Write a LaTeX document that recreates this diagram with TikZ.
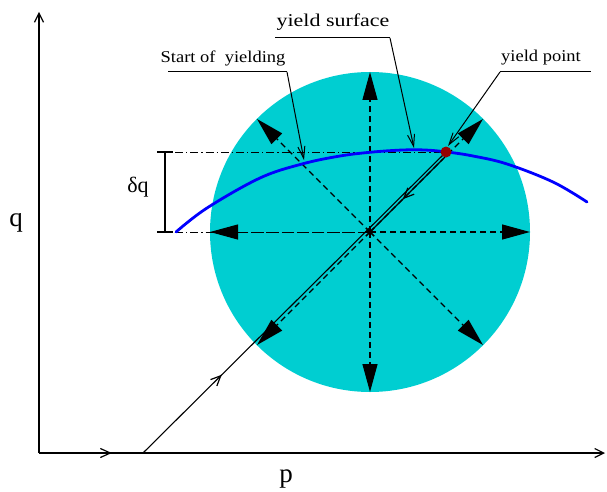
\documentclass[tikz,border=0pt]{standalone}
\usepackage{fontspec}
\setmainfont{Liberation Serif}
\usetikzlibrary{arrows.meta,decorations.markings}
\definecolor{surf}{RGB}{0,206,209}
\definecolor{ydot}{RGB}{150,0,0}
\begin{document}
\begin{tikzpicture}[x=1pt,y=-1pt,
  thinline/.style={line width=1.1pt},
  dashline/.style={line width=1.2pt,dash pattern=on 6pt off 4pt},
  dotdash/.style={line width=1pt,dash pattern=on 8pt off 3pt on 1.2pt off 3pt},
  bighead/.style={-{Triangle[length=28pt,width=15pt]}},
  barb/.style={-{Straight Barb[length=9pt,width=9pt,line width=1.2pt]}},
  leader/.style={line width=1pt,-{Straight Barb[length=12pt,width=7pt,line width=1pt]}},
  midarrow/.style={postaction={decorate},decoration={markings,
     mark=at position #1 with {\arrow{Straight Barb[length=10pt,width=9pt,line width=1.2pt]}}}},
  lbl/.style={inner sep=0pt,anchor=base}]
\useasboundingbox (0,0) rectangle (607,492);

% coordinates
\coordinate (O) at (370,232);
\coordinate (Y) at (446,152);
\coordinate (orig) at (39,453);
\coordinate (yend) at (39,12);
\coordinate (xend) at (605,453);
\coordinate (K) at (143,453);
\coordinate (U) at (443,159);
\coordinate (N) at (370,72);
\coordinate (S) at (370,392);
\coordinate (E) at (530,232);
\coordinate (W) at (210,232);
\coordinate (NE) at (483,119);
\coordinate (NW) at (257,119);
\coordinate (SE) at (483,345);
\coordinate (SW) at (257,345);
\coordinate (dimTop) at (165,152);
\coordinate (dimBot) at (165,232);
\coordinate (dlTop) at (160,152);
\coordinate (dlBot) at (160,232);

% yield surface disc
\fill[surf] (O) circle (160);

% axes
\draw[thinline,barb] (orig) -- (yend);
\draw[thinline,barb] (orig) -- (xend);
\draw[thinline,midarrow=0.7] (orig) -- (K);

% loading path
\draw[thinline,midarrow=0.26] (K) -- (Y);

% dash-dot reference lines
\draw[dotdash] (dlTop) -- (Y);
\draw[dotdash] (dlBot) -- (O);
\draw[dotdash,bighead] (O) -- (W);

% dashed stress directions
\draw[dashline,bighead] (O) -- (N);
\draw[dashline,bighead] (O) -- (S);
\draw[dashline,bighead] (O) -- (E);
\draw[dashline,bighead] (O) -- (NE);
\draw[dashline,bighead] (O) -- (NW);
\draw[dashline,bighead] (O) -- (SE);
\draw[dashline,bighead] (O) -- (SW);

% unloading line
\draw[thinline,midarrow=0.55] (U) -- (O);

% centre star
\draw[thinline] (O) ++(-4,-4) -- ++(8,8);
\draw[thinline] (O) ++(-4,4) -- ++(8,-8);
\draw[thinline] (O) ++(-5,0) -- ++(10,0);
\draw[thinline] (O) ++(0,-5) -- ++(0,10);

% yield curve
\draw[blue,line width=2.8pt,line cap=round] plot[smooth,tension=0.6] coordinates
  {(176,232) (207,208) (260,178) (302,164) (340,156) (373,152) (403,150) (425,150)
   (447,152) (473,156) (507,164) (553,182) (587,202)};

% yield point
\fill[ydot] (Y) circle (5.5);

% dimension delta q
\draw[thinline] (dimTop) -- (dimBot);
\draw[thinline] (157,152) -- (173,152);
\draw[thinline] (157,232) -- (173,232);
\node[lbl] (dq) at (138,192) {\fontsize{22}{24}\selectfont δq};

% axis labels
\node[lbl] (qlab) at (16,226) {\fontsize{27}{30}\selectfont q};
\node[lbl] (plab) at (286,482) {\fontsize{27}{30}\selectfont p};

% label: yield surface
\node[lbl] (ysl) at (333,27) {\scalebox{1.22}[1]{\fontsize{18}{20}\selectfont yield surface}};
\coordinate (ys0) at (275,38);
\coordinate (ys1) at (390,38);
\coordinate (ysT) at (414,148);
\draw[line width=1pt] (ys0) -- (ys1);
\draw[leader] (ys1) -- (ysT);

% label: start of yielding
\node[lbl] (soy) at (223,63) {\scalebox{1.12}[1]{\fontsize{16.5}{18}\selectfont Start of\ \ yielding}};
\coordinate (so0) at (168,72);
\coordinate (so1) at (287,72);
\coordinate (soT) at (304,160);
\draw[line width=1pt] (so0) -- (so1);
\draw[leader] (so1) -- (soT);

% label: yield point
\node[lbl] (ypl) at (541,62) {\scalebox{1.12}[1]{\fontsize{16.5}{18}\selectfont yield point}};
\coordinate (yp0) at (500,72);
\coordinate (yp1) at (591,72);
\coordinate (ypT) at (448,146);
\draw[line width=1pt] (yp0) -- (yp1);
\draw[leader] (yp0) -- (ypT);
\end{tikzpicture}
\end{document}
